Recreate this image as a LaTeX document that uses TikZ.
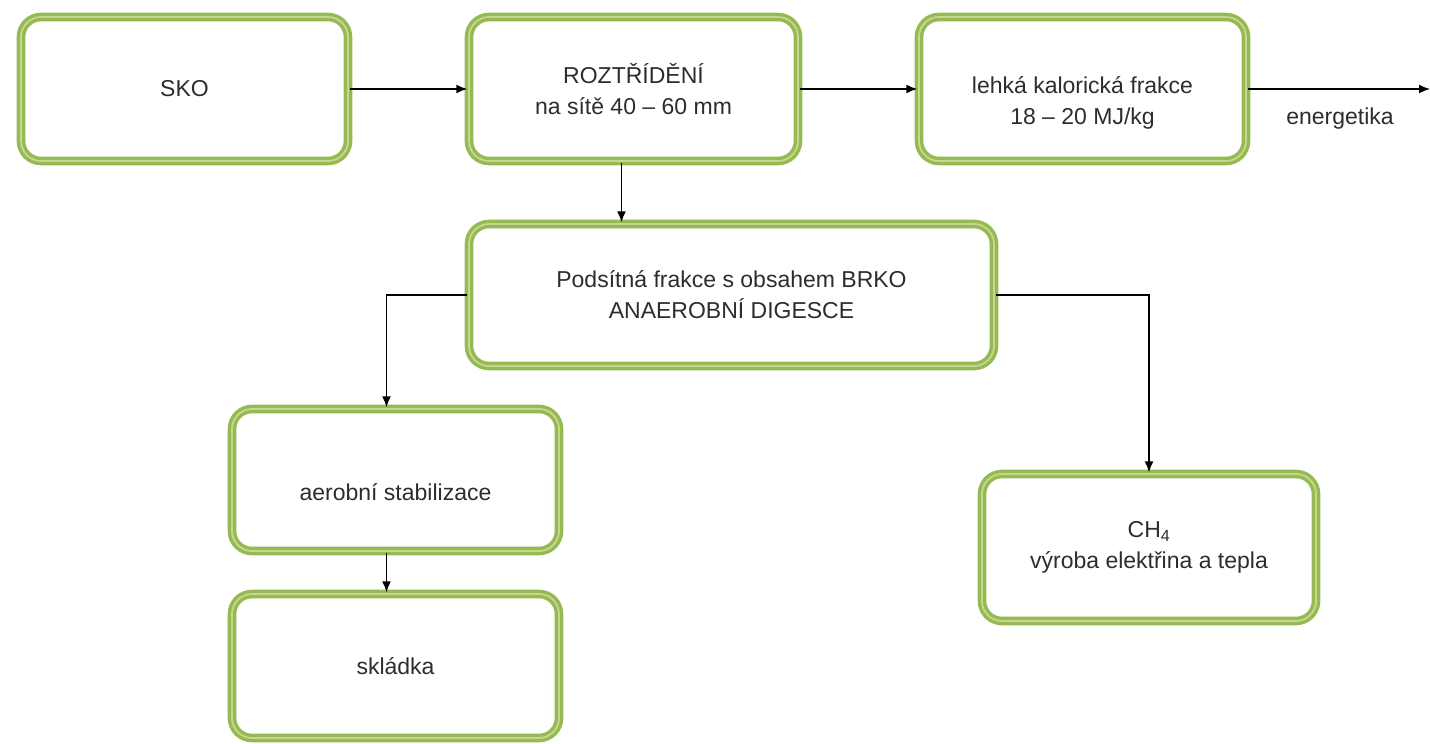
\documentclass[tikz,border=0pt]{standalone}
\usepackage{fontspec}
\setmainfont{Liberation Sans}
\usetikzlibrary{arrows.meta,calc}
\definecolor{boxgreen}{RGB}{150,185,82}
\definecolor{boxlight}{RGB}{196,216,146}
\definecolor{txt}{RGB}{45,45,45}
\tikzset{
  gbox/.style={draw=boxgreen, double=boxlight, double distance=1.8pt, line width=3.4pt,
    rounded corners=20pt, fill=white, align=center, text=txt,
    font=\fontsize{23}{31}\selectfont, inner sep=0pt},
  arr/.style={draw=black, line width=1.6pt, -{Latex[length=11pt,width=9pt]}},
  lbl/.style={text=txt, font=\fontsize{23}{31}\selectfont, align=center}
}
\begin{document}
\begin{tikzpicture}[x=1pt,y=-1pt]
\useasboundingbox (0,0) rectangle (1430,744);
\fill[white] (0,0) rectangle (1430,744);

\node[gbox, minimum width=327pt, minimum height=144pt] (sko) at (184.5,89) {SKO};
\node[gbox, minimum width=329pt, minimum height=144pt] (roz) at (633.5,89) {ROZTŘÍDĚNÍ\\na sítě 40 – 60 mm};
\node[gbox, minimum width=327pt, minimum height=144pt,
  label={[lbl, yshift=-14pt]center:{lehká kalorická frakce\\18 – 20 MJ/kg}}] (leh) at (1082.5,89) {};
\node[gbox, minimum width=525pt, minimum height=142pt] (pod) at (731.5,295) {Podsítná frakce s obsahem BRKO\\ANAEROBNÍ DIGESCE};
\node[gbox, minimum width=327pt, minimum height=142pt,
  label={[lbl, yshift=-12pt]center:{aerobní stabilizace}}] (aer) at (395.5,480) {};
\node[gbox, minimum width=327pt, minimum height=144pt] (skl) at (395.5,666) {skládka};
\node[gbox, minimum width=334pt, minimum height=147pt] (ch) at (1149,547.5) {CH\textsubscript{4}\\výroba elektřina a tepla};

\coordinate (endE) at (1430,89);
\node[lbl, anchor=north] (ene) at (1340,104) {energetika};

\draw[arr] (sko.east) -- (roz.west);
\draw[arr] (roz.east) -- (leh.west);
\draw[arr] (leh.east) -- (endE);
\draw[arr] ([xshift=-12pt]roz.south) -- ([xshift=-12pt]roz.south |- pod.north);
\draw[arr] (pod.west) -| ([xshift=-9pt]aer.north);
\draw[arr] ([xshift=-9pt]aer.south) -- ([xshift=-9pt]skl.north);
\draw[arr] (pod.east) -| (ch.north);
\end{tikzpicture}
\end{document}
